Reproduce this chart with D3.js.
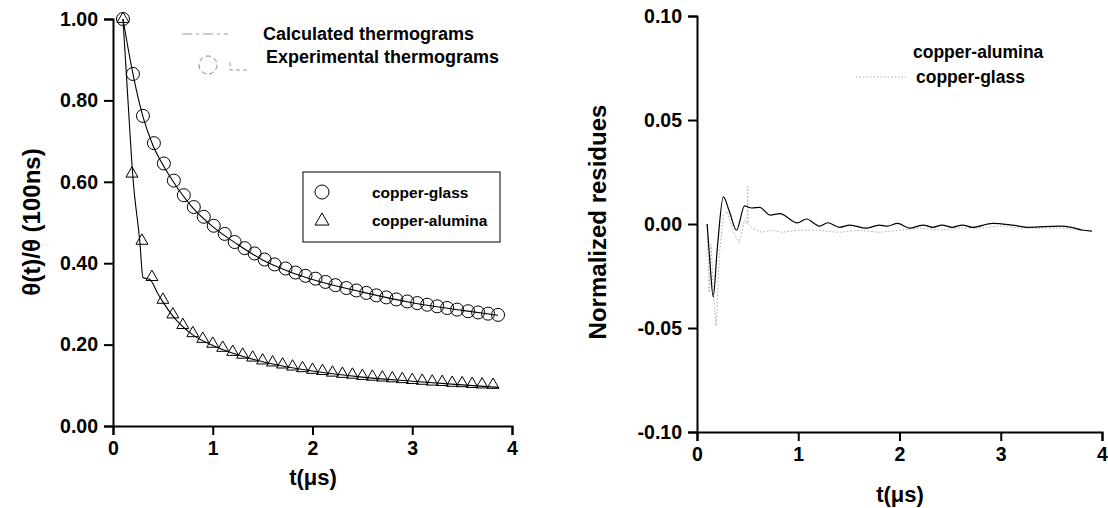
<!DOCTYPE html>
<html><head><meta charset="utf-8">
<script src="https://cdn.jsdelivr.net/npm/d3@7"></script>
<style>
html,body{margin:0;padding:0;background:#fff;}
svg{display:block;font-family:"Liberation Sans",Arial,sans-serif;font-weight:bold;}
</style></head>
<body>
<svg id="chart" width="1108" height="508"></svg>
<script>
// ---------- data ----------
const glassTime = [0.10,0.20,0.30,0.41,0.51,0.61,0.71,0.81,0.91,1.01,1.12,1.22,1.32,1.42,1.52,1.62,1.73,1.83,1.93,2.03,2.13,2.23,2.34,2.44,2.54,2.64,2.74,2.84,2.95,3.05,3.15,3.25,3.35,3.45,3.56,3.66,3.76,3.86];
const glassExp = [1.000,0.865,0.762,0.695,0.645,0.603,0.567,0.538,0.514,0.492,0.472,0.452,0.437,0.424,0.409,0.397,0.387,0.377,0.369,0.362,0.354,0.346,0.339,0.333,0.327,0.321,0.316,0.311,0.306,0.302,0.298,0.294,0.290,0.286,0.282,0.279,0.276,0.273];
const aluminaTime = [0.10,0.19,0.29,0.39,0.50,0.60,0.70,0.80,0.90,1.00,1.10,1.20,1.30,1.40,1.50,1.60,1.70,1.80,1.90,2.00,2.10,2.20,2.30,2.40,2.50,2.60,2.70,2.80,2.90,3.00,3.10,3.20,3.30,3.40,3.50,3.60,3.70,3.81];
const aluminaExp = [1.000,0.620,0.455,0.366,0.310,0.274,0.248,0.228,0.214,0.202,0.192,0.182,0.175,0.168,0.161,0.156,0.151,0.146,0.142,0.138,0.135,0.131,0.128,0.126,0.123,0.121,0.119,0.117,0.115,0.113,0.111,0.109,0.108,0.106,0.105,0.103,0.102,0.101];
const calcGlassTime = [0.10,0.15,0.20,0.30,0.40,0.50,0.60,0.80,1.00,1.25,1.50,1.75,2.00,2.50,3.00,3.50,3.86];
const calcGlass = [1.000,0.930,0.865,0.760,0.690,0.642,0.602,0.536,0.490,0.446,0.408,0.381,0.360,0.329,0.303,0.284,0.272];
const calcAluminaTime = [0.10,0.15,0.20,0.27,0.30,0.37,0.45,0.50,0.60,0.80,1.00,1.25,1.50,2.00,2.50,3.00,3.50,3.86];
const calcAlumina = [1.000,0.800,0.610,0.450,0.365,0.360,0.325,0.305,0.270,0.224,0.198,0.175,0.158,0.135,0.120,0.110,0.101,0.095];

const resAluminaTime = [0.10,0.13,0.16,0.20,0.26,0.32,0.39,0.47,0.54,0.62,0.72,0.82,0.99,1.08,1.21,1.29,1.41,1.51,1.67,1.80,1.88,1.98,2.10,2.23,2.33,2.42,2.52,2.62,2.72,2.92,3.11,3.28,3.58,3.70,3.80,3.90];
const resAlumina = [0.000,-0.020,-0.035,-0.012,0.013,0.006,-0.003,0.0087,0.0077,0.008,0.0043,0.005,0.0005,0.0024,-0.001,0.0006,-0.0016,-0.0005,-0.002,-0.0005,-0.001,0.0003,-0.002,-0.0005,-0.0016,-0.0005,-0.0016,-0.0005,-0.0016,0.0003,-0.0005,-0.0016,-0.001,-0.0016,-0.0029,-0.0034];
const resGlassTime = [0.10,0.12,0.14,0.17,0.19,0.22,0.26,0.30,0.36,0.42,0.47,0.495,0.50,0.505,0.55,0.64,0.74,0.84,1.00,1.20,1.40,1.60,1.80,2.00,2.20,2.40,2.60,2.80,3.00,3.20,3.40,3.60,3.80,3.90];
const resGlass = [0.000,-0.033,-0.010,-0.040,-0.049,-0.015,0.004,0.006,-0.004,-0.009,0.002,0.000,0.018,0.000,-0.002,-0.004,-0.003,-0.004,-0.003,-0.003,-0.004,-0.003,-0.004,-0.003,-0.002,-0.003,-0.002,-0.002,-0.001,-0.002,-0.002,-0.002,-0.003,-0.0035];

const xTicks = [0,1,2,3,4];
const leftYTicks = [0,0.2,0.4,0.6,0.8,1.0];
const rightYTicks = [-0.10,-0.05,0,0.05,0.10];
const leftYTitle = "\u03b8(t)/\u03b8 (100ns)";
const rightYTitle = "Normalized residues";
const xTitle = "t(\u03bcs)";
const topLegend = ["Calculated thermograms","Experimental thermograms"];
const innerLegend = ["copper-glass","copper-alumina"];
const rightLegend = ["copper-alumina","copper-glass"];

// ---------- drawing ----------
const svg = d3.select("#chart");
const fmt = v => d3.format(".2f")(v).replace("\u2212","-");

function styleAxis(g){
  g.select(".domain").attr("stroke","#000").attr("stroke-width",2);
  g.selectAll(".tick line").attr("stroke","#000").attr("stroke-width",2);
  g.selectAll(".tick text").attr("fill","#000").style("font-size","19.5px").style("font-weight","bold")
   .style("font-family","'Liberation Sans',Arial,sans-serif");
}

// Left panel
const xL = d3.scaleLinear().domain([0,4]).range([113,512]);
const yL = d3.scaleLinear().domain([0,1]).range([426,19]);
const gxL = svg.append("g").attr("transform",`translate(0,${yL(0)})`)
  .call(d3.axisBottom(xL).tickValues(xTicks).tickFormat(d3.format("d")).tickSizeOuter(0).tickSize(9).tickPadding(6));
styleAxis(gxL);
const gyL = svg.append("g").attr("transform",`translate(${xL(0)},0)`)
  .call(d3.axisLeft(yL).tickValues(leftYTicks).tickFormat(fmt).tickSizeOuter(0).tickSize(9).tickPadding(6));
styleAxis(gyL);

const line = (xs, ys) => d3.line().x((d,i)=>xs(d[0])).y(d=>ys(d[1])).curve(d3.curveMonotoneX);
const zip = (a,b) => a.map((t,i)=>[t,b[i]]);

// markers
svg.append("g").selectAll("circle").data(zip(glassTime,glassExp)).join("circle")
  .attr("cx",d=>xL(d[0])).attr("cy",d=>yL(d[1])).attr("r",6.5)
  .attr("fill","none").attr("stroke","#000").attr("stroke-width",1);
const tri = d3.symbol(d3.symbolTriangle).size(62);
svg.append("g").selectAll("path").data(zip(aluminaTime,aluminaExp)).join("path")
  .attr("transform",d=>`translate(${xL(d[0])},${yL(d[1])})`).attr("d",tri())
  .attr("fill","none").attr("stroke","#000").attr("stroke-width",1);

// calculated lines
svg.append("path").datum(zip(calcGlassTime,calcGlass)).attr("d",line(xL,yL))
  .attr("fill","none").attr("stroke","#000").attr("stroke-width",1.1);
svg.append("path").datum(zip(calcAluminaTime,calcAlumina)).attr("d",line(xL,yL))
  .attr("fill","none").attr("stroke","#000").attr("stroke-width",1.1);

// top legend
svg.append("line").attr("x1",182).attr("x2",228).attr("y1",34).attr("y2",34)
  .attr("stroke","#999").attr("stroke-width",1).attr("stroke-dasharray","10,4,3,4");
svg.append("circle").attr("cx",208).attr("cy",65).attr("r",9)
  .attr("fill","none").attr("stroke","#888").attr("stroke-width",1).attr("stroke-dasharray","5,3");
svg.append("path").attr("d","M230,62 L230,70 L250,70").attr("fill","none")
  .attr("stroke","#999").attr("stroke-width",1).attr("stroke-dasharray","4,3");
svg.selectAll(".tl").data(topLegend).join("text").attr("class","tl")
  .attr("x",(d,i)=>i?266:263).attr("y",(d,i)=>i?63:40)
  .style("font-size","18px").text(d=>d);

// inner legend
svg.append("rect").attr("x",303).attr("y",172).attr("width",197).attr("height",70)
  .attr("fill","none").attr("stroke","#000").attr("stroke-width",1);
svg.append("circle").attr("cx",322).attr("cy",192).attr("r",7).attr("fill","none").attr("stroke","#000");
svg.append("path").attr("transform","translate(322,221)").attr("d",d3.symbol(d3.symbolTriangle).size(85)())
  .attr("fill","none").attr("stroke","#000");
svg.selectAll(".il").data(innerLegend).join("text").attr("class","il")
  .attr("x",372).attr("y",(d,i)=>i?226:198).style("font-size","15.5px").text(d=>d);

// left titles
svg.append("text").attr("transform","translate(40,222) rotate(-90)").attr("text-anchor","middle")
  .style("font-size","24px").text(leftYTitle);
svg.append("text").attr("x",313).attr("y",485).attr("text-anchor","middle")
  .style("font-size","22px").text(xTitle);

// Right panel
const xR = d3.scaleLinear().domain([0,4]).range([697,1102]);
const yR = d3.scaleLinear().domain([-0.1,0.1]).range([432,16]);
const gxR = svg.append("g").attr("transform",`translate(0,${yR(-0.1)})`)
  .call(d3.axisBottom(xR).tickValues(xTicks).tickFormat(d3.format("d")).tickSizeOuter(0).tickSize(9).tickPadding(6));
styleAxis(gxR);
const gyR = svg.append("g").attr("transform",`translate(${xR(0)},0)`)
  .call(d3.axisLeft(yR).tickValues(rightYTicks).tickFormat(fmt).tickSizeOuter(0).tickSize(9).tickPadding(6));
styleAxis(gyR);

svg.append("path").datum(zip(resGlassTime,resGlass)).attr("d",d3.line().x(d=>xR(d[0])).y(d=>yR(d[1])))
  .attr("fill","none").attr("stroke","#aaa").attr("stroke-width",1).attr("stroke-dasharray","1.5,2");
svg.append("path").datum(zip(resAluminaTime,resAlumina)).attr("d",line(xR,yR))
  .attr("fill","none").attr("stroke","#000").attr("stroke-width",1.2);

// right legend
svg.append("line").attr("x1",856).attr("x2",906).attr("y1",77).attr("y2",77)
  .attr("stroke","#aaa").attr("stroke-width",1).attr("stroke-dasharray","1.5,2");
svg.selectAll(".rl").data(rightLegend).join("text").attr("class","rl")
  .attr("x",(d,i)=>i?916:913).attr("y",(d,i)=>i?83:58).style("font-size","17.5px").text(d=>d);

svg.append("text").attr("transform","translate(606,222) rotate(-90)").attr("text-anchor","middle")
  .style("font-size","24px").text(rightYTitle);
svg.append("text").attr("x",900).attr("y",502).attr("text-anchor","middle")
  .style("font-size","22px").text(xTitle);
</script>
</body></html>
